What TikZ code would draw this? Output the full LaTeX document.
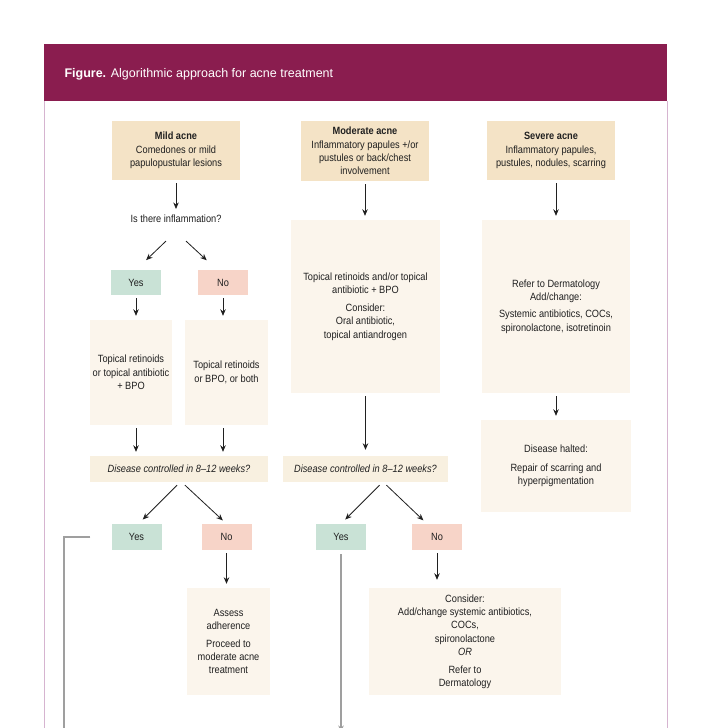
\documentclass[tikz,border=0pt]{standalone}
\usepackage{fontspec}
\setmainfont[FakeStretch=0.88]{Liberation Sans}
\newfontfamily\titlefont{Liberation Sans}
\usetikzlibrary{arrows.meta, positioning}
\definecolor{plum}{RGB}{138,29,79}
\definecolor{rim}{RGB}{214,180,208}
\definecolor{sand}{RGB}{244,227,198}
\definecolor{cream}{RGB}{251,245,236}
\definecolor{wheat}{RGB}{248,240,224}
\definecolor{mint}{RGB}{201,226,214}
\definecolor{blush}{RGB}{247,212,200}
\definecolor{ink}{RGB}{32,32,32}

\begin{document}
\begin{tikzpicture}[x=1pt, y=-1pt, >={Stealth[length=6.5pt, width=5.5pt]},
  font=\fontsize{10.5}{13.4}\selectfont, text=ink,
  box/.style={inner sep=0pt, align=center},
  grade/.style={box, fill=sand, minimum width=128pt, minimum height=59pt},
  rx/.style={box, fill=cream},
  ask/.style={box, fill=wheat, minimum height=26pt, font=\fontsize{10.5}{13.4}\selectfont\itshape},
  yesb/.style={box, fill=mint, minimum width=50pt, minimum height=25pt},
  nob/.style={box, fill=blush, minimum width=50pt, minimum height=25pt},
  link/.style={->, draw=ink, line width=0.8pt, shorten <=3pt, shorten >=4pt},
  back/.style={draw=gray!75, line width=1.1pt}]
\useasboundingbox (0,0) rectangle (712,728);
\fill[white] (0,0) rectangle (712,728);
% frame and heading
\fill[plum] (44,44) rectangle (667,101);
\draw[rim, line width=1pt] (44,101) -- (44,740) (667,101) -- (667,740);
\node[anchor=base west, text=white, font=\titlefont\fontsize{12.5}{15}\selectfont] (title) at (61,77) {\textbf{Figure.} Algorithmic approach for acne treatment};

% mild
\node[grade] (mild) at (176,150.5) {\textbf{Mild acne}\\Comedones or mild\\papulopustular lesions};
\node[inner sep=2pt] (infl) at (176,219) {Is there inflammation?};
\node[yesb] (yes1) at (136,282.5) {Yes};
\node[nob]  (no1)  at (223,282.5) {No};
\node[rx, minimum width=82pt, minimum height=105pt] (rxA) at (131,372.5) {Topical retinoids\\or topical antibiotic\\+ BPO};
\node[rx, minimum width=83pt, minimum height=105pt] (rxB) at (226.5,372.5) {Topical retinoids\\or BPO, or both};
\node[ask, minimum width=178pt] (ctl1) at (179,469) {Disease controlled in 8--12 weeks?};
\node[yesb, minimum height=26pt] (yes2) at (136.5,537) {Yes};
\node[nob, minimum height=26pt]  (no2)  at (226.5,537) {No};
\node[rx, minimum width=83pt, minimum height=107pt] (adh) at (228.5,641.5) {Assess\\adherence\\[4pt]Proceed to\\moderate acne\\treatment};

% moderate
\node[grade, minimum height=60pt] (mod) at (365,151) {\textbf{Moderate acne}\\Inflammatory papules +/or\\pustules or back/chest\\involvement};
\node[rx, minimum width=149pt, minimum height=173pt] (rxM) at (365.5,306.5) {Topical retinoids and/or topical\\antibiotic + BPO\\[4pt]Consider:\\Oral antibiotic,\\topical antiandrogen};
\node[ask, minimum width=165pt] (ctl2) at (365.5,469) {Disease controlled in 8--12 weeks?};
\node[yesb, minimum height=26pt] (yes3) at (341,537) {Yes};
\node[nob, minimum height=26pt]  (no3)  at (437,537) {No};
\node[rx, minimum width=192pt, minimum height=107pt] (esc) at (465,641.5) {Consider:\\Add/change systemic antibiotics,\\COCs,\\spironolactone\\\textit{OR}\\[4pt]Refer to\\Dermatology};

% severe
\node[grade] (sev) at (551,150.5) {\textbf{Severe acne}\\Inflammatory papules,\\pustules, nodules, scarring};
\node[rx, minimum width=148pt, minimum height=173pt] (rxS) at (556,306.5) {Refer to Dermatology\\Add/change:\\[4pt]Systemic antibiotics, COCs,\\spironolactone, isotretinoin};
\node[rx, minimum width=150pt, minimum height=92pt] (halt) at (556,466) {Disease halted:\\[5pt]Repair of scarring and\\hyperpigmentation};

\coordinate (done) at (64,728);
\coordinate (onward) at (341,732);

\draw[link] (mild.south) -- (infl.north);
\draw[link, shorten <=0pt, shorten >=14pt] ([xshift=-10pt, yshift=-16pt]infl.south) -- (yes1.north);
\draw[link, shorten <=0pt, shorten >=14pt] ([xshift=10pt, yshift=-16pt]infl.south) -- ([xshift=-6pt]no1.north);
\draw[link] (yes1.south) -- (yes1.south |- rxA.north);
\draw[link] (no1.south) -- (no1.south |- rxB.north);
\draw[link] (rxA.south -| yes1) -- (ctl1.north -| yes1);
\draw[link] (rxB.south -| no1) -- (ctl1.north -| no1);
\draw[link, shorten <=0pt, shorten >=6pt] ([xshift=-2pt, yshift=-3pt]ctl1.south) -- ([xshift=2pt]yes2.north);
\draw[link, shorten <=0pt, shorten >=5pt] ([xshift=6pt, yshift=-3pt]ctl1.south) -- (no2.north);
\draw[link] (no2.south) -- (no2.south |- adh.north);
\draw[back] ([xshift=-21pt]yes2.west) -| (done);

\draw[link] (mod.south) -- (mod.south |- rxM.north);
\draw[link, shorten >=6pt] (rxM.south) -- (rxM.south |- ctl2.north);
\draw[link, shorten <=0pt, shorten >=6pt] ([xshift=14pt, yshift=-3pt]ctl2.south) -- (yes3.north);
\draw[link, shorten <=0pt, shorten >=5pt] ([xshift=21pt, yshift=-3pt]ctl2.south) -- ([xshift=-10pt]no3.north);
\draw[link, shorten >=8pt] (no3.south) -- (no3.south |- esc.north);
\draw[back, ->, shorten <=4pt] (yes3.south) -- (onward);

\draw[link] (rxS.north |- sev.south) -- (rxS.north);
\draw[link] (rxS.south) -- (halt.north);
\end{tikzpicture}
\end{document}
